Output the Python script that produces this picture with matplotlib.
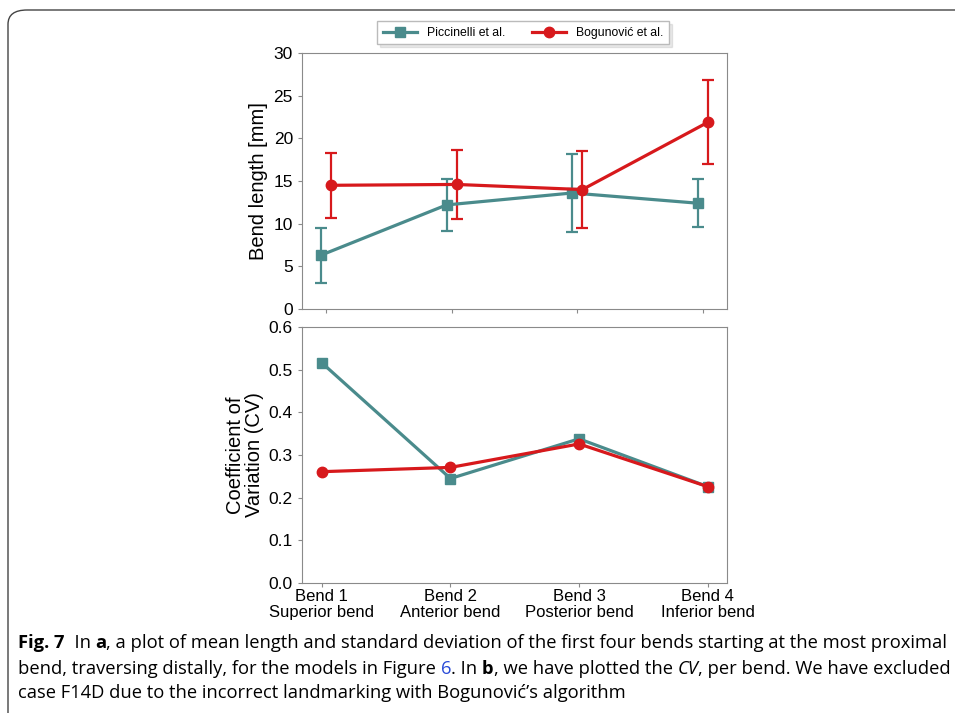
import numpy as np
import matplotlib
matplotlib.use("Agg")
import matplotlib.pyplot as plt
from matplotlib.patches import FancyBboxPatch
from matplotlib.ticker import FormatStrFormatter

plt.rcParams.update({
    "font.family": ["Liberation Sans", "DejaVu Sans"],
    "axes.edgecolor": "#8a8a8a", "xtick.color": "#8a8a8a", "ytick.color": "#8a8a8a",
    "xtick.labelcolor": "black", "ytick.labelcolor": "black",
    "xtick.major.size": 3, "ytick.major.size": 3,
})
TEAL, RED = "#4A8B8C", "#D7191C"

bends = ["Bend 1\nSuperior bend", "Bend 2\nAnterior bend", "Bend 3\nPosterior bend", "Bend 4\nInferior bend"]
picc_mean = [6.3, 12.2, 13.6, 12.4]
picc_sd = [3.25, 3.0, 4.6, 2.8]
bogu_mean = [14.5, 14.6, 14.0, 21.9]
bogu_sd = [3.8, 4.0, 4.55, 4.95]
picc_cv = [0.516, 0.245, 0.338, 0.226]
bogu_cv = [0.261, 0.271, 0.326, 0.226]

x = np.arange(len(bends))
W, H = 955, 713
fig = plt.figure(figsize=(W / 100, H / 100), dpi=100)

# frame round the whole figure
fig.patches.append(FancyBboxPatch((8 / W, -0.05), 1.2, 1 - 10 / H + 0.05,
                                  boxstyle="round,pad=0,rounding_size=0.02",
                                  transform=fig.transFigure, fill=False,
                                  ec="#444444", lw=1.0))

ax1 = fig.add_axes([0.3162, 0.5666, 0.445, 0.359])
ax2 = fig.add_axes([0.3162, 0.1823, 0.445, 0.359])

# --- a: mean length with sd ---
kw = dict(lw=2.3, ms=7.5, capsize=4, elinewidth=1.6, capthick=1.6)
e1 = ax1.errorbar(x - 0.04, picc_mean, yerr=picc_sd, color=TEAL, marker="s", **kw)
e2 = ax1.errorbar(x + 0.04, bogu_mean, yerr=bogu_sd, color=RED, marker="o", **kw)
ax1.set_xlim(-0.19, 3.19); ax1.set_ylim(0, 30)
ax1.set_xticks(x); ax1.set_xticklabels([])
ax1.set_yticks(np.arange(0, 31, 5))
ax1.tick_params(labelsize=12.5)
ax1.set_ylabel("Bend length [mm]", fontsize=14.5)
ax1.yaxis.set_label_coords(-0.08, 0.5)
ax1.legend([e1[0], e2[0]], ["Piccinelli et al.", "Bogunović et al."],
           loc="lower center", bbox_to_anchor=(0.52, 1.01), ncol=2, fontsize=8.8,
           frameon=True, edgecolor="#bbbbbb", fancybox=False, handlelength=2.8,
           columnspacing=2.2, borderpad=0.45, shadow={"alpha": 0.12})

# --- b: coefficient of variation ---
ax2.plot(x, picc_cv, color=TEAL, marker="s", lw=2.3, ms=7.5)
ax2.plot(x, bogu_cv, color=RED, marker="o", lw=2.3, ms=7.5)
ax2.set_xlim(-0.155, 3.15); ax2.set_ylim(0, 0.6)
ax2.set_xticks(x); ax2.set_xticklabels(bends, fontsize=12, linespacing=1.1)
ax2.tick_params(axis="x", pad=1)
ax2.set_yticks(np.arange(0, 0.61, 0.1))
ax2.yaxis.set_major_formatter(FormatStrFormatter("%.1f"))
ax2.tick_params(axis="y", labelsize=12.5)
ax2.set_ylabel("Coefficient of\nVariation (CV)", fontsize=14.5, linespacing=1.0)
ax2.yaxis.set_label_coords(-0.09, 0.5)

# --- caption, laid out piece by piece in pixels ---
cap_font = ["Open Sans", "DejaVu Sans"]
lines = [
    [("Fig. 7", "bold", "normal", "black"), ("  In ", "normal", "normal", "black"),
     ("a", "bold", "normal", "black"),
     (", a plot of mean length and standard deviation of the first four bends starting at the most proximal",
      "normal", "normal", "black")],
    [("bend, traversing distally, for the models in Figure ", "normal", "normal", "black"),
     ("6", "normal", "normal", "#2a4bd7"), (". In ", "normal", "normal", "black"),
     ("b", "bold", "normal", "black"), (", we have plotted the ", "normal", "normal", "black"),
     ("CV", "normal", "italic", "black"),
     (", per bend. We have excluded", "normal", "normal", "black")],
    [("case F14D due to the incorrect landmarking with Bogunović\u2019s algorithm", "normal", "normal", "black")],
]
baselines = [648, 674, 698]
renderer = fig.canvas.get_renderer()


def draw_line(segs, yb, fs):
    xp = 18
    texts = []
    for s, wt, st, col in segs:
        t = fig.text(xp / W, 1 - yb / H, s, fontsize=fs, fontweight=wt, fontstyle=st,
                     color=col, family=cap_font, va="baseline", ha="left")
        xp = t.get_window_extent(renderer).x1
        texts.append(t)
    return texts, xp


# fit the widest caption line inside the box
fs = 13.0
widest = 0
for segs, yb in zip(lines, baselines):
    tt, xend = draw_line(segs, yb, fs)
    widest = max(widest, xend)
    for t in tt:
        t.remove()
fs = fs * (946 - 18) / (widest - 18)
for segs, yb in zip(lines, baselines):
    draw_line(segs, yb, fs)

fig.savefig("out.png", dpi=100)
